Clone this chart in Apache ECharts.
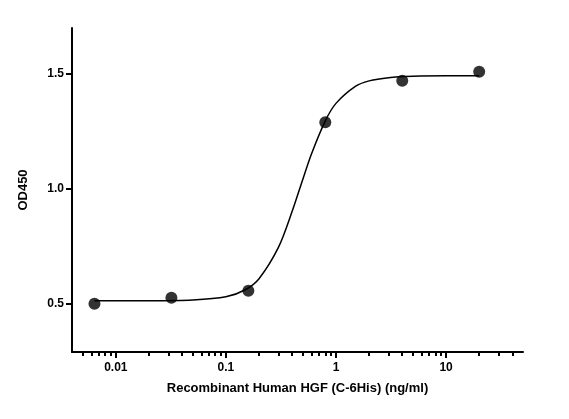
<!DOCTYPE html>
<html><head><meta charset="utf-8">
<script src="https://cdn.jsdelivr.net/npm/echarts@6/dist/echarts.min.js"></script>
<style>html,body{margin:0;padding:0;background:#fff}#c{width:569px;height:419px}</style>
</head><body><div id="c"></div>
<script>
const concentrations = [0.0064, 0.032, 0.16, 0.8, 4, 20];
const od450 = [0.50, 0.526, 0.557, 1.29, 1.47, 1.51];
const curveX = [0.0064, 0.01, 0.02, 0.05, 0.1, 0.15, 0.2, 0.3, 0.4, 0.5, 0.6, 0.8, 1, 1.5, 2, 3, 5, 10, 20];
const curveY = [0.513, 0.513, 0.513, 0.516, 0.530, 0.561, 0.609, 0.745, 0.902, 1.042, 1.153, 1.296, 1.372, 1.446, 1.470, 1.484, 1.490, 1.492, 1.492];
const xMajor = [0.01, 0.1, 1, 10];
const xMinor = [0.005,0.006,0.007,0.008,0.009,0.02,0.03,0.04,0.05,0.06,0.07,0.08,0.09,0.2,0.3,0.4,0.5,0.6,0.7,0.8,0.9,2,3,4,5,6,7,8,9,20,30,40];
const yTicks = [0.5, 1.0, 1.5];
const font = 'Liberation Sans, Arial, sans-serif';
const chart = echarts.init(document.getElementById('c'));
chart.setOption({
  animation:false,
  grid:{left:72,right:46,top:28,bottom:67},
  xAxis:[{type:'log',min:0.004,max:50,logBase:10,
    name:'Recombinant Human HGF (C-6His) (ng/ml)',nameLocation:'middle',nameGap:30,
    nameTextStyle:{fontFamily:font,fontWeight:'bold',fontSize:13,color:'#000'},
    axisLine:{lineStyle:{color:'#000',width:2}},
    axisTick:{customValues:xMajor,length:6,lineStyle:{color:'#000',width:2}},
    axisLabel:{customValues:xMajor,formatter:v=>String(v),fontFamily:font,fontWeight:'bold',fontSize:12,color:'#000',margin:10},
    splitLine:{show:false},minorTick:{show:false}},
   {type:'log',min:0.004,max:50,logBase:10,position:'bottom',
    axisLine:{show:false},
    axisTick:{customValues:xMinor,length:4,lineStyle:{color:'#000',width:2}},
    axisLabel:{show:false},splitLine:{show:false}}],
  yAxis:{type:'value',min:0.29,max:1.7,name:'OD450',nameLocation:'middle',nameGap:42,
    nameTextStyle:{fontFamily:font,fontWeight:'bold',fontSize:13,color:'#000'},
    axisLine:{show:true,lineStyle:{color:'#000',width:2}},
    axisTick:{show:true,customValues:yTicks,length:6,lineStyle:{color:'#000',width:2}},
    axisLabel:{customValues:yTicks,formatter:v=>v.toFixed(1),fontFamily:font,fontWeight:'bold',fontSize:12,color:'#000'},
    splitLine:{show:false}},
  series:[
    {type:'line',data:curveX.map((x,i)=>[x,curveY[i]]),smooth:0.3,showSymbol:false,
     lineStyle:{color:'#000',width:1.5}},
    {type:'scatter',data:concentrations.map((x,i)=>[x,od450[i]]),symbolSize:12,
     itemStyle:{color:'#000'}}
  ]
});
</script></body></html>
